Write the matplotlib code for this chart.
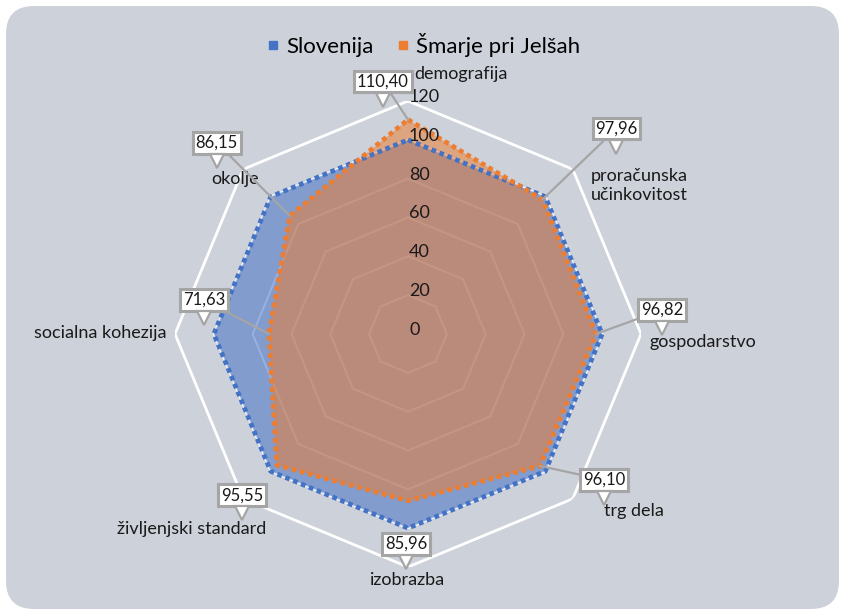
import numpy as np
import matplotlib
matplotlib.use("Agg")
import matplotlib.pyplot as plt
from matplotlib.patches import FancyBboxPatch
from matplotlib.lines import Line2D
from matplotlib.transforms import IdentityTransform, offset_copy

# ---------------- data ----------------
categories = ["demografija", "proračunska\nučinkovitost", "gospodarstvo", "trg dela",
              "izobrazba", "življenjski standard", "socialna kohezija", "okolje"]
slovenia = [100, 100, 100, 100, 100, 100, 100, 100]
smarje = [110.40, 97.96, 96.82, 96.10, 85.96, 95.55, 71.63, 86.15]
smarje_labels = ["110,40", "97,96", "96,82", "96,10", "85,96", "95,55", "71,63", "86,15"]
r_ticks = [0, 20, 40, 60, 80, 100, 120]
series_names = ["Slovenija", "Šmarje pri Jelšah"]

# ---------------- style ----------------
plt.rcParams['font.family'] = ['Lato', 'DejaVu Sans']
BG = "#CDD1DA"
BLUE = "#4472C4"
ORANGE = "#ED7D31"
TXT = "#1a1a1a"
GRAYLINE = "#A5A5A5"

W, H, DPI = 845, 615, 100
fig = plt.figure(figsize=(W / DPI, H / DPI), dpi=DPI)
fig.patch.set_facecolor("white")
bgpatch = FancyBboxPatch((6, 6), W - 12, H - 12,
                         boxstyle="round,pad=0,rounding_size=28",
                         transform=IdentityTransform(), fc=BG, ec="none", zorder=-5)
fig.add_artist(bgpatch)

cx, cy, R = 408, 334, 233
ax = fig.add_axes([(cx - R) / W, (H - cy - R) / H, 2 * R / W, 2 * R / H], projection="polar")
ax.set_zorder(1)
ax.set_facecolor("none")
ax.set_theta_zero_location("N")
ax.set_theta_direction(-1)
ax.set_ylim(0, 120)
ax.grid(False)
ax.set_xticks([])
ax.set_yticks([])
ax.spines["polar"].set_visible(False)

n = len(categories)
theta = np.linspace(0, 2 * np.pi, n, endpoint=False)
theta_c = np.append(theta, theta[0])

# polygon grid
for rv in r_ticks[1:]:
    ax.plot(theta_c, [rv] * (n + 1), color="white", lw=2.0 if rv == 120 else 1.4,
            zorder=1, solid_joinstyle="miter")

# series
s1 = np.append(slovenia, slovenia[0])
s2 = np.append(smarje, smarje[0])
ax.fill(theta_c, s1, color=BLUE, alpha=0.55, lw=0, zorder=2)
ax.fill(theta_c, s2, color=ORANGE, alpha=0.53, lw=0, zorder=3)
ax.plot(theta_c, s1, color=BLUE, lw=3.4, ls=(0, (1, 0.8)), dash_capstyle="butt", zorder=4)
ax.plot(theta_c, s2, color=ORANGE, lw=3.4, ls=(0, (1, 0.8)), dash_capstyle="butt", zorder=5)

# radial tick labels
for rv in r_ticks:
    ax.annotate(str(rv), xy=(0, rv), xytext=(1, 4), textcoords="offset pixels",
                ha="left", va="center", fontsize=13, color=TXT, zorder=6)

# category labels: (offset px x, offset px y (up), ha)
cat_off = [(6, 27, "left"), (18, -16, "left"), (9, -8, "left"), (31, -12, "left"),
           (0, -13, "center"), (23, -30, "right"), (-8, 1, "right"), (16, -10, "right")]
for t, lab, (dx, dy, ha) in zip(theta, categories, cat_off):
    ax.annotate(lab, xy=(t, 120), xytext=(dx, dy), textcoords="offset pixels",
                ha=ha, va="center", fontsize=13, color=TXT, annotation_clip=False,
                linespacing=1.2, zorder=6)

# data labels with callouts: box centre offset from data point (px, y up), leader line?
lab_off = [(-25, 38, True), (74, 71, True), (66, 24, True), (64, -14, True),
           (-2, -43, False), (-35, -30, False), (-65, 34, True), (-73, 73, True)]
for t, v, lab, (dx, dy, lead) in zip(theta, smarje, smarje_labels, lab_off):
    ap = dict(arrowstyle="-", color=GRAYLINE, lw=1.6, shrinkA=0, shrinkB=0) if lead else None
    ax.annotate(lab, xy=(t, v), xytext=(dx, dy), textcoords="offset pixels",
                ha="center", va="center", fontsize=12, color=TXT,
                bbox=dict(boxstyle="square,pad=0.17", fc="white", ec=GRAYLINE, lw=2.2),
                arrowprops=ap, annotation_clip=False, zorder=8)
    tr = offset_copy(ax.transData, fig=fig, x=dx, y=dy - 18, units="dots")
    ax.plot([t], [v], marker="v", ms=10, mfc="white", mec=GRAYLINE, mew=1.6,
            transform=tr, clip_on=False, zorder=9)

# legend
handles = [Line2D([], [], marker="s", ls="none", color=BLUE, ms=6),
           Line2D([], [], marker="s", ls="none", color=ORANGE, ms=6)]
fig.legend(handles, series_names, loc="center", bbox_to_anchor=(0.5, 1 - 45 / H),
           ncol=2, frameon=False, fontsize=16, handletextpad=0.2, columnspacing=0.9,
           handlelength=0.8)

fig.savefig("out.png", dpi=DPI, facecolor=fig.get_facecolor())
